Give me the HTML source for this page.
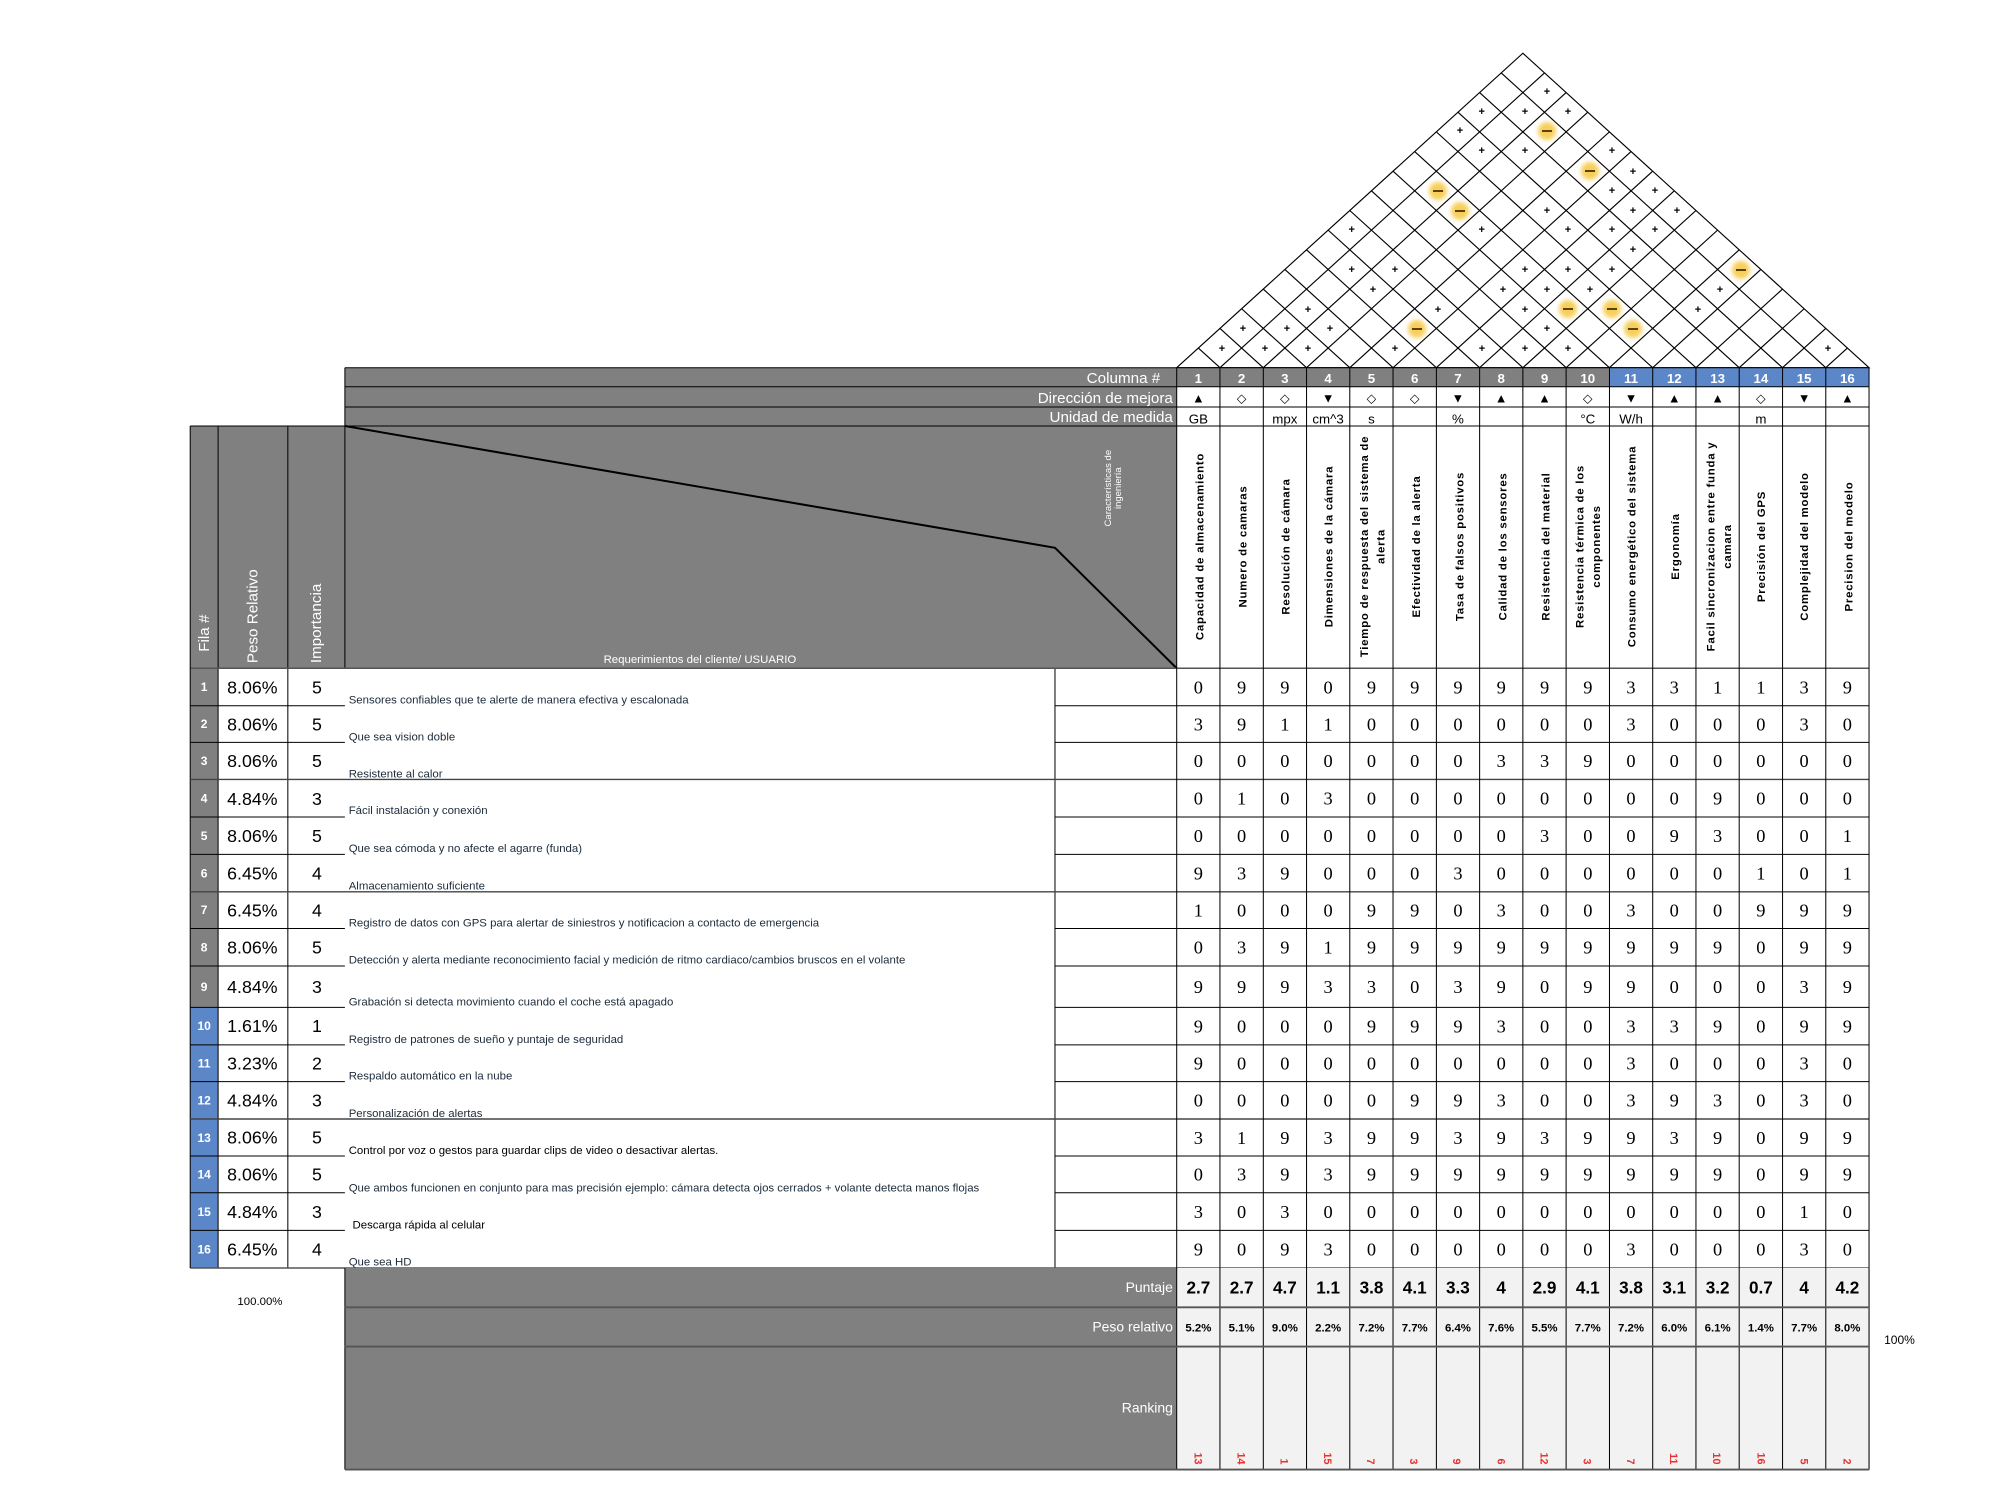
<!DOCTYPE html>
<html><head><meta charset="utf-8"><style>
html,body{margin:0;padding:0;background:#fff}
svg{display:block}
.n{font-family:"Liberation Sans Narrow","Liberation Sans",sans-serif}
.s{font-family:"Liberation Sans",sans-serif}
.sf{font-family:"Liberation Serif","DejaVu Serif",serif}
</style></head><body>
<svg width="1990" height="1498" viewBox="0 0 1569.4 1181.4" preserveAspectRatio="none" xmlns="http://www.w3.org/2000/svg">
<defs><filter id="bl" x="-50%" y="-50%" width="200%" height="200%"><feGaussianBlur stdDeviation="2"/></filter></defs>
<rect width="1569.4" height="1181.4" fill="#fff"/>

<!-- ROOF -->
<g stroke="#000" stroke-width="0.9" fill="none">
<polygon points="928,290 1201,42 1474,290"/>
<line x1="962.13" y1="290" x2="1218.06" y2="57.5"/><line x1="996.25" y1="290" x2="1235.13" y2="73"/>
<line x1="1030.38" y1="290" x2="1252.19" y2="88.5"/><line x1="1064.5" y1="290" x2="1269.25" y2="104"/>
<line x1="1098.63" y1="290" x2="1286.31" y2="119.5"/><line x1="1132.75" y1="290" x2="1303.38" y2="135"/>
<line x1="1166.88" y1="290" x2="1320.44" y2="150.5"/><line x1="1201" y1="290" x2="1337.5" y2="166"/>
<line x1="1235.13" y1="290" x2="1354.56" y2="181.5"/><line x1="1269.25" y1="290" x2="1371.63" y2="197"/>
<line x1="1303.38" y1="290" x2="1388.69" y2="212.5"/><line x1="1337.5" y1="290" x2="1405.75" y2="228"/>
<line x1="1371.63" y1="290" x2="1422.81" y2="243.5"/><line x1="1405.75" y1="290" x2="1439.88" y2="259"/>
<line x1="1439.88" y1="290" x2="1456.94" y2="274.5"/>
<line x1="962.13" y1="290" x2="945.06" y2="274.5"/><line x1="996.25" y1="290" x2="962.13" y2="259"/>
<line x1="1030.38" y1="290" x2="979.19" y2="243.5"/><line x1="1064.5" y1="290" x2="996.25" y2="228"/>
<line x1="1098.63" y1="290" x2="1013.31" y2="212.5"/><line x1="1132.75" y1="290" x2="1030.38" y2="197"/>
<line x1="1166.88" y1="290" x2="1047.44" y2="181.5"/><line x1="1201" y1="290" x2="1064.5" y2="166"/>
<line x1="1235.13" y1="290" x2="1081.56" y2="150.5"/><line x1="1269.25" y1="290" x2="1098.63" y2="135"/>
<line x1="1303.38" y1="290" x2="1115.69" y2="119.5"/><line x1="1337.5" y1="290" x2="1132.75" y2="104"/>
<line x1="1371.63" y1="290" x2="1149.81" y2="88.5"/><line x1="1405.75" y1="290" x2="1166.88" y2="73"/>
<line x1="1439.88" y1="290" x2="1183.94" y2="57.5"/>
</g>
<g transform="scale(0.78864)">
<g fill="#f7cf5a" filter="url(#bl)">
<circle cx="1438" cy="191" r="9"/><circle cx="1460" cy="211" r="9"/><circle cx="1417" cy="329" r="9"/>
<circle cx="1547" cy="131" r="9"/><circle cx="1590" cy="171" r="9"/><circle cx="1741" cy="270" r="9"/>
<circle cx="1568" cy="309" r="9"/><circle cx="1612" cy="309" r="9"/><circle cx="1633" cy="329" r="9"/>
</g>
<g stroke="#5a4200" stroke-width="2">
<line x1="1433" y1="191" x2="1443" y2="191"/><line x1="1455" y1="211" x2="1465" y2="211"/><line x1="1412" y1="329" x2="1422" y2="329"/>
<line x1="1542" y1="131" x2="1552" y2="131"/><line x1="1585" y1="171" x2="1595" y2="171"/><line x1="1736" y1="270" x2="1746" y2="270"/>
<line x1="1563" y1="309" x2="1573" y2="309"/><line x1="1607" y1="309" x2="1617" y2="309"/><line x1="1628" y1="329" x2="1638" y2="329"/>
</g>
<g class="s" font-size="11" font-weight="bold" text-anchor="middle" fill="#000">
<text x="1481.7" y="115">+</text><text x="1525" y="115">+</text><text x="1460" y="134">+</text><text x="1481.7" y="154">+</text><text x="1525" y="154">+</text>
<text x="1481.7" y="233">+</text><text x="1351.7" y="233">+</text><text x="1351.7" y="273">+</text><text x="1395" y="273">+</text><text x="1525" y="273">+</text>
<text x="1373" y="293">+</text><text x="1503" y="293">+</text><text x="1308" y="313">+</text><text x="1438" y="313">+</text><text x="1525" y="313">+</text>
<text x="1243" y="332">+</text><text x="1287" y="332">+</text><text x="1330" y="332">+</text>
<text x="1222" y="352">+</text><text x="1265" y="352">+</text><text x="1308" y="352">+</text><text x="1395" y="352">+</text><text x="1482" y="352">+</text><text x="1525" y="352">+</text>
<text x="1547" y="95">+</text><text x="1568" y="115">+</text><text x="1612" y="154">+</text><text x="1633" y="175">+</text><text x="1612" y="194">+</text><text x="1655" y="194">+</text>
<text x="1547" y="214">+</text><text x="1633" y="214">+</text><text x="1677" y="214">+</text><text x="1568" y="233">+</text><text x="1612" y="233">+</text><text x="1655" y="233">+</text>
<text x="1633" y="253">+</text><text x="1568" y="273">+</text><text x="1612" y="273">+</text><text x="1547" y="293">+</text><text x="1590" y="293">+</text><text x="1720" y="293">+</text>
<text x="1698" y="313">+</text><text x="1547" y="332">+</text><text x="1568" y="352">+</text><text x="1828" y="352">+</text>
</g>
</g>

<!-- HEADER ROWS -->
<rect x="272" y="290" width="656" height="46" fill="#808080"/>
<rect x="928" y="290" width="341.3" height="15" fill="#808080"/>
<rect x="1269.3" y="290" width="204.7" height="15" fill="#5b87c9"/>
<g class="n" font-size="12" fill="#fff" text-anchor="end">
<text x="915" y="302">Columna #</text><text x="925" y="318">Dirección de mejora</text><text x="925" y="333">Unidad de medida</text>
</g>
<g class="n" font-size="10.5" font-weight="bold" fill="#fff" text-anchor="middle">
<text x="945.1" y="302">1</text><text x="979.2" y="302">2</text><text x="1013.3" y="302">3</text><text x="1047.4" y="302">4</text><text x="1081.6" y="302">5</text><text x="1115.7" y="302">6</text><text x="1149.8" y="302">7</text><text x="1183.9" y="302">8</text><text x="1218.1" y="302">9</text><text x="1252.2" y="302">10</text><text x="1286.3" y="302">11</text><text x="1320.4" y="302">12</text><text x="1354.6" y="302">13</text><text x="1388.7" y="302">14</text><text x="1422.8" y="302">15</text><text x="1456.9" y="302">16</text>
</g>
<text class="s" font-size="10" text-anchor="middle" x="945.1 979.2 1013.3 1047.4 1081.6 1115.7 1149.8 1183.9 1218.1 1252.2 1286.3 1320.4 1354.6 1388.7 1422.8 1456.9" y="317.5">▲◇◇▼◇◇▼▲▲◇▼▲▲◇▼▲</text>
<g class="n" font-size="10.5" text-anchor="middle">
<text x="945.1" y="334">GB</text><text x="1013.3" y="334">mpx</text><text x="1047.4" y="334">cm^3</text><text x="1081.6" y="334">s</text><text x="1149.8" y="334">%</text><text x="1252.2" y="334">°C</text><text x="1286.3" y="334">W/h</text><text x="1388.7" y="334">m</text>
</g>

<!-- LEFT HEADER BLOCK -->
<rect x="150" y="336" width="778" height="191" fill="#808080"/>
<g stroke="#000" stroke-width="0.8" fill="none">
<line x1="172" y1="336" x2="172" y2="527"/><line x1="227" y1="336" x2="227" y2="527"/><line x1="272" y1="290" x2="272" y2="527"/>
</g>
<polyline points="272,336 832,432 928,527" fill="none" stroke="#000" stroke-width="1.6"/>
<g class="s" font-size="12" fill="#fff">
<text transform="translate(165,514) rotate(-90)">Fila #</text>
<text transform="translate(203,523) rotate(-90)">Peso Relativo</text>
<text transform="translate(253,523) rotate(-90)">Importancia</text>
</g>
<text class="n" font-size="9" fill="#fff" x="552" y="523" text-anchor="middle">Requerimientos del cliente/ USUARIO</text>
<g class="s" font-size="7.5" fill="#fff" text-anchor="middle">
<text transform="translate(876,385) rotate(-90)">Características de</text>
<text transform="translate(884,385) rotate(-90)">ingeniería</text>
</g>

<!-- VERTICAL COLUMN LABELS -->
<g class="s" font-size="9" font-weight="bold" letter-spacing="0.6" text-anchor="middle" fill="#000">
<text transform="translate(949,431) rotate(-90)">Capacidad de almacenamiento</text>
<text transform="translate(983,431) rotate(-90)">Numero de camaras</text>
<text transform="translate(1017,431) rotate(-90)">Resolución de cámara</text>
<text transform="translate(1051,431) rotate(-90)">Dimensiones de la cámara</text>
<text transform="translate(1079,431) rotate(-90)">Tiempo de respuesta del sistema de</text>
<text transform="translate(1092,431) rotate(-90)">alerta</text>
<text transform="translate(1120,431) rotate(-90)">Efectividad de la alerta</text>
<text transform="translate(1154,431) rotate(-90)">Tasa de falsos positivos</text>
<text transform="translate(1188,431) rotate(-90)">Calidad de los sensores</text>
<text transform="translate(1222,431) rotate(-90)">Resistencia del material</text>
<text transform="translate(1249,431) rotate(-90)">Resistencia térmica de los</text>
<text transform="translate(1262,431) rotate(-90)">componentes</text>
<text transform="translate(1290,431) rotate(-90)">Consumo energético del sistema</text>
<text transform="translate(1324,431) rotate(-90)">Ergonomía</text>
<text transform="translate(1352,431) rotate(-90)">Facil sincronizacion entre funda y</text>
<text transform="translate(1365,431) rotate(-90)">camara</text>
<text transform="translate(1392,431) rotate(-90)">Precisión del GPS</text>
<text transform="translate(1426,431) rotate(-90)">Complejidad del modelo</text>
<text transform="translate(1461,431) rotate(-90)">Precision del modelo</text>
</g>

<!-- ROW NUMBER CELLS -->
<rect x="150" y="527" width="22" height="267.5" fill="#808080"/>
<rect x="150" y="794.5" width="22" height="205.5" fill="#5b87c9"/>
<g class="n" font-size="9.5" font-weight="bold" fill="#fff" text-anchor="middle">
<text x="161" y="545">1</text><text x="161" y="574">2</text><text x="161" y="603.5">3</text><text x="161" y="633">4</text><text x="161" y="662.5">5</text><text x="161" y="692">6</text><text x="161" y="721">7</text><text x="161" y="750.5">8</text><text x="161" y="781.5">9</text><text x="161" y="812.5">10</text><text x="161" y="842">11</text><text x="161" y="871">12</text><text x="161" y="900.5">13</text><text x="161" y="929.5">14</text><text x="161" y="959">15</text><text x="161" y="988.5">16</text>
</g>
<g class="n" font-size="14" text-anchor="middle" fill="#000">
<text x="199" y="547">8.06%</text><text x="199" y="576">8.06%</text><text x="199" y="605">8.06%</text><text x="199" y="635">4.84%</text><text x="199" y="664">8.06%</text><text x="199" y="693.5">6.45%</text><text x="199" y="723">6.45%</text><text x="199" y="752">8.06%</text><text x="199" y="783">4.84%</text><text x="199" y="814">1.61%</text><text x="199" y="843.5">3.23%</text><text x="199" y="872.5">4.84%</text><text x="199" y="902">8.06%</text><text x="199" y="931">8.06%</text><text x="199" y="960.5">4.84%</text><text x="199" y="990">6.45%</text>
<text x="250" y="547">5</text><text x="250" y="576">5</text><text x="250" y="605">5</text><text x="250" y="635">3</text><text x="250" y="664">5</text><text x="250" y="693.5">4</text><text x="250" y="723">4</text><text x="250" y="752">5</text><text x="250" y="783">3</text><text x="250" y="814">1</text><text x="250" y="843.5">2</text><text x="250" y="872.5">3</text><text x="250" y="902">5</text><text x="250" y="931">5</text><text x="250" y="960.5">3</text><text x="250" y="990">4</text>
</g>
<g class="n" font-size="9" fill="#1c2b3a">
<text x="275" y="555">Sensores confiables que te alerte de manera efectiva y escalonada</text>
<text x="275" y="584">Que sea vision doble</text>
<text x="275" y="613">Resistente al calor</text>
<text x="275" y="642">Fácil instalación y conexión</text>
<text x="275" y="672">Que sea cómoda y no afecte el agarre (funda)</text>
<text x="275" y="701.5">Almacenamiento suficiente</text>
<text x="275" y="730.5">Registro de datos con GPS para alertar de siniestros y notificacion a contacto de emergencia</text>
<text x="275" y="760">Detección y alerta mediante reconocimiento facial y medición de ritmo cardiaco/cambios bruscos en el volante</text>
<text x="275" y="793">Grabación si detecta movimiento cuando el coche está apagado</text>
<text x="275" y="822.5">Registro de patrones de sueño y puntaje de seguridad</text>
<text x="275" y="851.5">Respaldo automático en la nube</text>
<text x="275" y="881">Personalización de alertas</text>
<text x="275" y="910" fill="#000">Control por voz o gestos para guardar clips de video o desactivar alertas.</text>
<text x="275" y="939.5">Que ambos funcionen en conjunto para mas precisión ejemplo: cámara detecta ojos cerrados + volante detecta manos flojas</text>
<text x="278" y="969" fill="#000">Descarga rápida al celular</text>
<text x="275" y="998">Que sea HD</text>
</g>

<!-- GRID LINES -->
<g stroke="#000" stroke-width="0.8">
<line x1="172" y1="527" x2="172" y2="1000"/><line x1="227" y1="527" x2="227" y2="1000"/><line x1="832" y1="527" x2="832" y2="1000"/>
<line x1="272" y1="290" x2="1474" y2="290"/><line x1="272" y1="305" x2="1474" y2="305"/><line x1="272" y1="321" x2="1474" y2="321"/>
<line x1="150" y1="336" x2="1474" y2="336"/>
</g>
<g stroke="#555" stroke-width="1.2"><line x1="150" y1="527" x2="1474" y2="527"/><line x1="150" y1="1000" x2="1474" y2="1000"/></g>
<g stroke="#000" stroke-width="0.8" fill="none">
<line x1="150" y1="336" x2="150" y2="1000"/>
<path d="M150 556.6H272M832 556.6H1474M150 585.5H272M832 585.5H1474M150 644.3H272M832 644.3H1474M150 673.8H272M832 673.8H1474M150 732.3H272M832 732.3H1474M150 761.8H272M832 761.8H1474M150 794.5H272M832 794.5H1474M150 824H272M832 824H1474M150 853H272M832 853H1474M150 911.7H272M832 911.7H1474M150 940.7H272M832 940.7H1474M150 970.3H272M832 970.3H1474"/>
<path d="M150 614.7H1474M150 703.3H1474M150 882.5H1474" stroke="#444" stroke-width="1.1"/>
<path d="M928 290V1159M962.1 290V1159M996.3 290V1159M1030.4 290V1159M1064.5 290V1159M1098.6 290V1159M1132.8 290V1159M1166.9 290V1159M1201 290V1159M1235.1 290V1159M1269.3 290V1159M1303.4 290V1159M1337.5 290V1159M1371.6 290V1159M1405.8 290V1159M1439.9 290V1159M1474 290V1159"/>
</g>

<!-- MATRIX VALUES -->
<g class="sf" font-size="14.5" text-anchor="middle" fill="#000">
<text x="945.1 979.2 1013.3 1047.4 1081.6 1115.7 1149.8 1183.9 1218.1 1252.2 1286.3 1320.4 1354.6 1388.7 1422.8 1456.9" y="546.8">0990999999331139</text>
<text x="945.1 979.2 1013.3 1047.4 1081.6 1115.7 1149.8 1183.9 1218.1 1252.2 1286.3 1320.4 1354.6 1388.7 1422.8 1456.9" y="576">3911000000300030</text>
<text x="945.1 979.2 1013.3 1047.4 1081.6 1115.7 1149.8 1183.9 1218.1 1252.2 1286.3 1320.4 1354.6 1388.7 1422.8 1456.9" y="605">0000000339000000</text>
<text x="945.1 979.2 1013.3 1047.4 1081.6 1115.7 1149.8 1183.9 1218.1 1252.2 1286.3 1320.4 1354.6 1388.7 1422.8 1456.9" y="634.5">0103000000009000</text>
<text x="945.1 979.2 1013.3 1047.4 1081.6 1115.7 1149.8 1183.9 1218.1 1252.2 1286.3 1320.4 1354.6 1388.7 1422.8 1456.9" y="664">0000000030093001</text>
<text x="945.1 979.2 1013.3 1047.4 1081.6 1115.7 1149.8 1183.9 1218.1 1252.2 1286.3 1320.4 1354.6 1388.7 1422.8 1456.9" y="693.5">9390003000000101</text>
<text x="945.1 979.2 1013.3 1047.4 1081.6 1115.7 1149.8 1183.9 1218.1 1252.2 1286.3 1320.4 1354.6 1388.7 1422.8 1456.9" y="722.8">1000990300300999</text>
<text x="945.1 979.2 1013.3 1047.4 1081.6 1115.7 1149.8 1183.9 1218.1 1252.2 1286.3 1320.4 1354.6 1388.7 1422.8 1456.9" y="752">0391999999999099</text>
<text x="945.1 979.2 1013.3 1047.4 1081.6 1115.7 1149.8 1183.9 1218.1 1252.2 1286.3 1320.4 1354.6 1388.7 1422.8 1456.9" y="783.2">9993303909900039</text>
<text x="945.1 979.2 1013.3 1047.4 1081.6 1115.7 1149.8 1183.9 1218.1 1252.2 1286.3 1320.4 1354.6 1388.7 1422.8 1456.9" y="814.3">9000999300339099</text>
<text x="945.1 979.2 1013.3 1047.4 1081.6 1115.7 1149.8 1183.9 1218.1 1252.2 1286.3 1320.4 1354.6 1388.7 1422.8 1456.9" y="843.5">9000000000300030</text>
<text x="945.1 979.2 1013.3 1047.4 1081.6 1115.7 1149.8 1183.9 1218.1 1252.2 1286.3 1320.4 1354.6 1388.7 1422.8 1456.9" y="872.8">0000099300393030</text>
<text x="945.1 979.2 1013.3 1047.4 1081.6 1115.7 1149.8 1183.9 1218.1 1252.2 1286.3 1320.4 1354.6 1388.7 1422.8 1456.9" y="902.1">3193993939939099</text>
<text x="945.1 979.2 1013.3 1047.4 1081.6 1115.7 1149.8 1183.9 1218.1 1252.2 1286.3 1320.4 1354.6 1388.7 1422.8 1456.9" y="931.2">0393999999999099</text>
<text x="945.1 979.2 1013.3 1047.4 1081.6 1115.7 1149.8 1183.9 1218.1 1252.2 1286.3 1320.4 1354.6 1388.7 1422.8 1456.9" y="960.5">3030000000000010</text>
<text x="945.1 979.2 1013.3 1047.4 1081.6 1115.7 1149.8 1183.9 1218.1 1252.2 1286.3 1320.4 1354.6 1388.7 1422.8 1456.9" y="990.2">9093000000300030</text>
</g>

<!-- BOTTOM SECTION -->
<rect x="272" y="1000" width="656" height="159" fill="#808080"/>
<rect x="928" y="1000" width="546" height="159" fill="#f2f2f2"/>
<g stroke="#000" stroke-width="0.8" fill="none">
<path d="M928 1000V1159M962.1 1000V1159M996.3 1000V1159M1030.4 1000V1159M1064.5 1000V1159M1098.6 1000V1159M1132.8 1000V1159M1166.9 1000V1159M1201 1000V1159M1235.1 1000V1159M1269.3 1000V1159M1303.4 1000V1159M1337.5 1000V1159M1371.6 1000V1159M1405.8 1000V1159M1439.9 1000V1159M1474 1000V1159"/>
<line x1="272" y1="1000" x2="272" y2="1159"/>
</g>
<g stroke="#555" stroke-width="1.5"><line x1="272" y1="1031" x2="1474" y2="1031"/><line x1="272" y1="1062" x2="1474" y2="1062"/><line x1="272" y1="1159" x2="1474" y2="1159"/></g>
<g class="n" font-size="11" fill="#fff" text-anchor="end">
<text x="925" y="1019">Puntaje</text><text x="925" y="1050">Peso relativo</text><text x="925" y="1114">Ranking</text>
</g>
<g class="n" font-size="13.5" font-weight="bold" text-anchor="middle" fill="#000">
<text x="945.1" y="1020">2.7</text><text x="979.2" y="1020">2.7</text><text x="1013.3" y="1020">4.7</text><text x="1047.4" y="1020">1.1</text><text x="1081.6" y="1020">3.8</text><text x="1115.7" y="1020">4.1</text><text x="1149.8" y="1020">3.3</text><text x="1183.9" y="1020">4</text><text x="1218.1" y="1020">2.9</text><text x="1252.2" y="1020">4.1</text><text x="1286.3" y="1020">3.8</text><text x="1320.4" y="1020">3.1</text><text x="1354.6" y="1020">3.2</text><text x="1388.7" y="1020">0.7</text><text x="1422.8" y="1020">4</text><text x="1456.9" y="1020">4.2</text>
</g>
<g class="n" font-size="9" font-weight="bold" text-anchor="middle" fill="#000">
<text x="945.1" y="1050">5.2%</text><text x="979.2" y="1050">5.1%</text><text x="1013.3" y="1050">9.0%</text><text x="1047.4" y="1050">2.2%</text><text x="1081.6" y="1050">7.2%</text><text x="1115.7" y="1050">7.7%</text><text x="1149.8" y="1050">6.4%</text><text x="1183.9" y="1050">7.6%</text><text x="1218.1" y="1050">5.5%</text><text x="1252.2" y="1050">7.7%</text><text x="1286.3" y="1050">7.2%</text><text x="1320.4" y="1050">6.0%</text><text x="1354.6" y="1050">6.1%</text><text x="1388.7" y="1050">1.4%</text><text x="1422.8" y="1050">7.7%</text><text x="1456.9" y="1050">8.0%</text>
</g>
<g class="s" font-size="8.5" font-weight="bold" fill="#e8322f" text-anchor="end">
<text transform="translate(942,1155) rotate(90)">13</text><text transform="translate(976,1155) rotate(90)">14</text><text transform="translate(1010,1155) rotate(90)">1</text><text transform="translate(1044,1155) rotate(90)">15</text><text transform="translate(1078,1155) rotate(90)">7</text><text transform="translate(1112,1155) rotate(90)">3</text><text transform="translate(1146,1155) rotate(90)">9</text><text transform="translate(1181,1155) rotate(90)">6</text><text transform="translate(1215,1155) rotate(90)">12</text><text transform="translate(1249,1155) rotate(90)">3</text><text transform="translate(1283,1155) rotate(90)">7</text><text transform="translate(1317,1155) rotate(90)">11</text><text transform="translate(1351,1155) rotate(90)">10</text><text transform="translate(1386,1155) rotate(90)">16</text><text transform="translate(1420,1155) rotate(90)">5</text><text transform="translate(1454,1155) rotate(90)">2</text>
</g>
<text class="s" font-size="9" x="205" y="1029" text-anchor="middle">100.00%</text>
<text class="n" font-size="9.5" x="1498" y="1060" text-anchor="middle">100%</text>
</svg>
</body></html>
